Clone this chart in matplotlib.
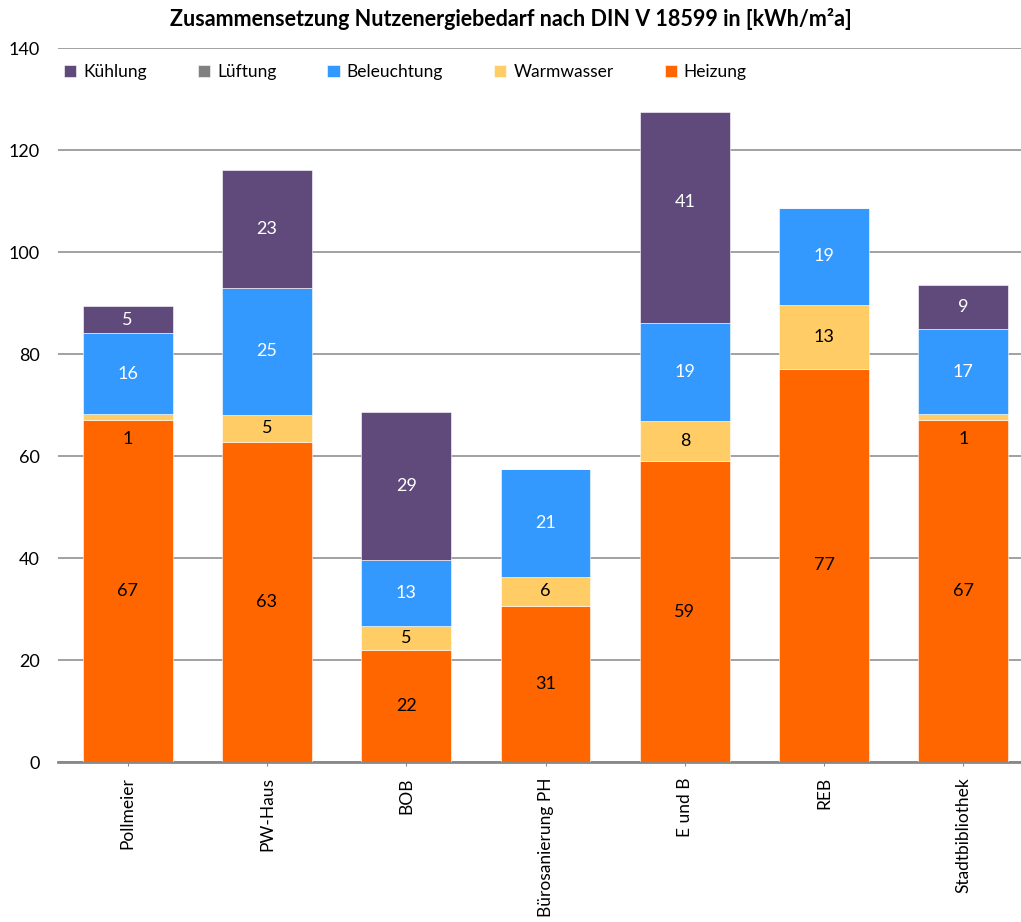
import matplotlib
matplotlib.use("Agg")
import matplotlib.pyplot as plt
import numpy as np

plt.rcParams['font.family'] = ['Lato', 'DejaVu Sans']

gebaeude = ['Pollmeier', 'PW-Haus', 'BOB', 'Bürosanierung PH', 'E und B', 'REB', 'Stadtbibliothek']
heizung = [67.1, 62.7, 22.0, 30.6, 59.0, 77.1, 67.1]
warmwasser = [1.1, 5.4, 4.6, 5.7, 7.9, 12.6, 1.1]
beleuchtung = [15.9, 24.9, 13.1, 21.2, 19.2, 19.0, 16.7]
lueftung = [0, 0, 0, 0, 0, 0, 0]
kuehlung = [5.3, 23.0, 29.0, 0, 41.4, 0, 8.6]

serien = [
    ('Heizung', heizung, '#FF6600', 'black'),
    ('Warmwasser', warmwasser, '#FFCC66', 'black'),
    ('Beleuchtung', beleuchtung, '#3399FF', 'white'),
    ('Lüftung', lueftung, '#808080', 'white'),
    ('Kühlung', kuehlung, '#604A7B', 'white'),
]

fig = plt.figure(figsize=(10.21, 9.22), dpi=100)
ax = fig.add_axes([0.0568, 0.1735, 0.955, 0.7744])

x = np.arange(len(gebaeude))
bottom = np.zeros(len(gebaeude))
handles = {}
for name, vals, col, tcol in serien:
    vals = np.array(vals, dtype=float)
    b = ax.bar(x, vals, 0.645, bottom=bottom, color=col, label=name, zorder=3,
               edgecolor='white', linewidth=0.4)
    handles[name] = b
    for i, v in enumerate(vals):
        if v <= 0:
            continue
        yc = bottom[i] + v / 2
        # kleine Segmente: Beschriftung nach unten versetzt
        off = -16 if v < 2 else 0
        if name == 'Kühlung' and gebaeude[i] == 'E und B':
            off = 11  # wie im Original etwas hoeher
        ax.annotate(f"{v:.0f}", (x[i], yc), xytext=(0, off), textcoords='offset points',
                    ha='center', va='center', fontsize=13, color=tcol, zorder=4)
    bottom += vals

ax.set_xlim(-0.5, len(gebaeude) - 0.5)
ax.set_ylim(0, 140)
ax.set_yticks(range(0, 141, 20))
ax.yaxis.grid(True, color='#888888', linewidth=1.1, zorder=0)
ax.set_xticks(x)
ax.set_xticklabels(gebaeude, rotation=90, fontsize=12.5)
ax.tick_params(axis='y', length=0, labelsize=13, pad=13)
ax.tick_params(axis='x', length=3, color='#888888', pad=8)
for s in ['top', 'right', 'left']:
    ax.spines[s].set_visible(False)
ax.spines['bottom'].set_color('#888888')
ax.spines['bottom'].set_linewidth(2)

order = ['Kühlung', 'Lüftung', 'Beleuchtung', 'Warmwasser', 'Heizung']
ax.legend([handles[n] for n in order], order, loc='upper left', ncol=5,
          bbox_to_anchor=(-0.01, 1.0), frameon=False, fontsize=12.5,
          handlelength=0.7, handleheight=0.7, columnspacing=2.95, handletextpad=0.4)

fig.text(0.5, 0.979, 'Zusammensetzung Nutzenergiebedarf nach DIN V 18599 in [kWh/m²a]',
         ha='center', va='center', fontsize=15.5, fontweight='bold')

fig.savefig('out.png', dpi=100)
